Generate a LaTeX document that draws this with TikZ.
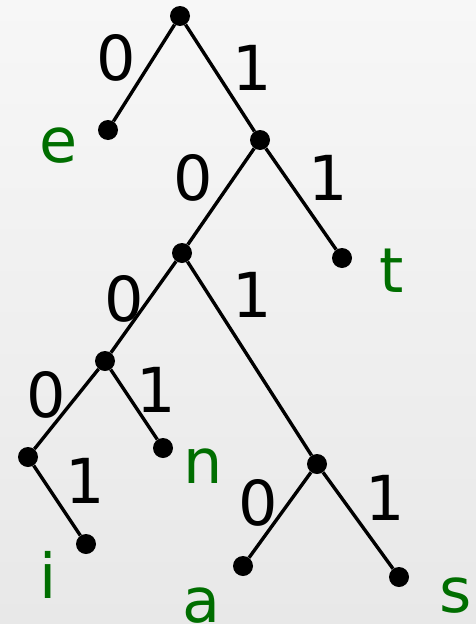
\documentclass[tikz,border=0pt]{standalone}
\usepackage{fontspec}
\setmainfont{DejaVu Sans}
\definecolor{leafgreen}{RGB}{0,110,0}
\definecolor{bgTop}{RGB}{247,247,247}
\definecolor{bgBot}{RGB}{232,232,232}
\begin{document}
\begin{tikzpicture}[x=1pt,y=-1pt,
  dot/.style={circle,fill=black,inner sep=0pt,minimum size=20pt},
  edge/.style={line width=3.4pt,black},
  bit/.style={anchor=base,font=\fontsize{62}{62}\selectfont,text=black,inner sep=0pt},
  sym/.style={anchor=base,font=\fontsize{62}{62}\selectfont,text=leafgreen,inner sep=0pt}]
\useasboundingbox (0,0) rectangle (476,624);
\shade[top color=bgTop,bottom color=bgBot] (0,0) rectangle (476,624);
% nodes
\node[dot] (r)  at (180,16) {};
\node[dot] (e)  at (108,130) {};
\node[dot] (n1) at (260,140) {};
\node[dot] (t)  at (342,258) {};
\node[dot] (n2) at (182,253) {};
\node[dot] (n3) at (105,361) {};
\node[dot] (n4) at (317,464) {};
\node[dot] (ip) at (28,457) {};
\node[dot] (i)  at (86,544) {};
\node[dot] (n)  at (163,448) {};
\node[dot] (a)  at (243,566) {};
\node[dot] (s)  at (399,577) {};
% edges
\draw[edge] (r) -- (e);
\draw[edge] (r) -- (n1);
\draw[edge] (n1) -- (n2);
\draw[edge] (n1) -- (t);
\draw[edge] (n2) -- (n3);
\draw[edge] (n2) -- (n4);
\draw[edge] (n3) -- (ip);
\draw[edge] (n3) -- (n);
\draw[edge] (ip) -- (i);
\draw[edge] (n4) -- (a);
\draw[edge] (n4) -- (s);
% bit labels
\node[bit] (b1)  at (116,80)  {0};
\node[bit] (b2)  at (252,90)  {1};
\node[bit] (b3)  at (193,200) {0};
\node[bit] (b4)  at (328,200) {1};
\node[bit] (b5)  at (124,321) {0};
\node[bit] (b6)  at (252,317) {1};
\node[bit] (b7)  at (46,417)  {0};
\node[bit] (b8)  at (156,412) {1};
\node[bit] (b9)  at (85,503)  {1};
\node[bit] (b10) at (258,525) {0};
\node[bit] (b11) at (385,520) {1};
% symbol labels
\node[sym] (le) at (59,162)  {e};
\node[sym] (lt) at (392,292) {t};
\node[sym] (ln) at (203,483) {n};
\node[sym] (li) at (48,598)  {i};
\node[sym] (la) at (201,622) {a};
\node[sym] (ls) at (456,612) {s};
\end{tikzpicture}
\end{document}
